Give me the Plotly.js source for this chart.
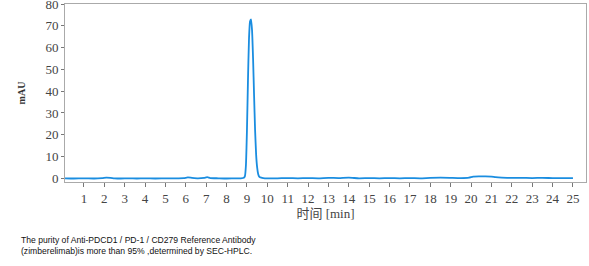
<!DOCTYPE html>
<html>
<head>
<meta charset="utf-8">
<script src="https://cdn.plot.ly/plotly-3.0.1.min.js"></script>
<style>html,body{margin:0;padding:0;background:#fff;}#chart{width:589px;height:266px;}</style>
</head>
<body>
<div id="chart"></div>
<script>
// Retention time (min)
const time = [0.05, 0.5, 1.0, 1.5, 1.9, 2.1, 2.3, 2.5, 2.8, 3.2, 3.6, 4.0, 4.5, 5.0, 5.5, 5.9, 6.1, 6.3, 6.6, 6.9, 7.05, 7.2, 7.6, 8.0, 8.4, 8.7, 8.85,
  8.9, 8.95, 9.0, 9.05, 9.1, 9.15, 9.2, 9.25, 9.3, 9.35, 9.4, 9.45, 9.5, 9.55, 9.6, 9.7, 9.8, 10.0,
  10.5, 11.0, 11.5, 12.0, 12.5, 13.0, 13.5, 14.0, 14.5, 15.0, 15.5, 16.0, 16.5, 17.0, 17.5, 18.0, 18.5, 19.0, 19.5, 19.9,
  20.1, 20.4, 20.7, 21.0, 21.2, 21.5, 22.0, 22.5, 23.0, 23.5, 24.0, 24.5, 25.0];
// Absorbance (mAU)
const mAU = [0.0, -0.1, 0.0, -0.1, 0.1, 0.3, 0.2, 0.0, -0.1, 0.0, -0.1, 0.0, -0.1, 0.0, 0.0, 0.1, 0.4, 0.2, 0.0, 0.2, 0.5, 0.1, 0.0, -0.1, 0.0, 0.0, 0.2,
  1.0, 6.0, 22.0, 45.0, 64.0, 72.0, 73.0, 68.0, 55.0, 38.0, 22.0, 11.0, 5.0, 2.0, 0.8, 0.3, 0.1, 0.0,
  0.0, 0.1, 0.0, 0.1, 0.0, 0.2, 0.1, 0.3, 0.0, 0.1, 0.0, 0.1, 0.0, 0.1, 0.0, 0.2, 0.3, 0.2, 0.1, 0.3,
  0.8, 0.9, 0.9, 0.8, 0.5, 0.3, 0.2, 0.2, 0.1, 0.2, 0.1, 0.1, 0.1];
const xTicks = [1,2,3,4,5,6,7,8,9,10,11,12,13,14,15,16,17,18,19,20,21,22,23,24,25];
const yTicks = [0,10,20,30,40,50,60,70,80];
const xTitle = "时间 [min]";
const yTitle = "mAU";
const caption = ["The purity of Anti-PDCD1 / PD-1 / CD279 Reference Antibody",
  "(zimberelimab)is more than 95% ,determined by SEC-HPLC."];

const serif = "Liberation Serif, Noto Sans CJK SC, serif";
const trace = {x: time, y: mAU, type: "scatter", mode: "lines",
  line: {color: "#1a8de0", width: 1.8, shape: "spline", smoothing: 0.5}, hoverinfo: "none", cliponaxis: false};
const layout = {
  width: 589, height: 266,
  margin: {l: 65, r: 3, t: 4, b: 84},
  paper_bgcolor: "#ffffff", plot_bgcolor: "#ffffff",
  showlegend: false,
  xaxis: {range: [0.07, 25.64], tickvals: xTicks, ticktext: xTicks.map(String),
    ticks: "outside", ticklen: 4, tickcolor: "#777", tickwidth: 1,
    showline: true, linecolor: "#aaa", linewidth: 1, mirror: true,
    showgrid: false, zeroline: false,
    tickfont: {family: serif, size: 13, color: "#444"},
    title: {text: xTitle, font: {family: serif, size: 13, color: "#444"}, standoff: 2}},
  yaxis: {range: [-1.7, 80.05], tickvals: yTicks, ticktext: yTicks.map(String),
    ticks: "outside", ticklen: 3, tickcolor: "#777", tickwidth: 1, ticklabeloverflow: "allow",
    showline: true, linecolor: "#aaa", linewidth: 1, mirror: true,
    showgrid: false, zeroline: false,
    tickfont: {family: serif, size: 13, color: "#444"},
    title: {text: "<b>" + yTitle + "</b>", font: {family: serif, size: 10, color: "#333"}, standoff: 17}},
  annotations: [
    {text: caption[0], xref: "paper", yref: "paper", x: -0.088, y: -0.326, xanchor: "left", yanchor: "middle", showarrow: false,
     font: {family: "Liberation Sans, sans-serif", size: 8.6, color: "#111"}},
    {text: caption[1], xref: "paper", yref: "paper", x: -0.088, y: -0.388, xanchor: "left", yanchor: "middle", showarrow: false,
     font: {family: "Liberation Sans, sans-serif", size: 8.6, color: "#111"}}
  ]
};
Plotly.newPlot("chart", [trace], layout, {staticPlot: true, displayModeBar: false});
</script>
</body>
</html>
